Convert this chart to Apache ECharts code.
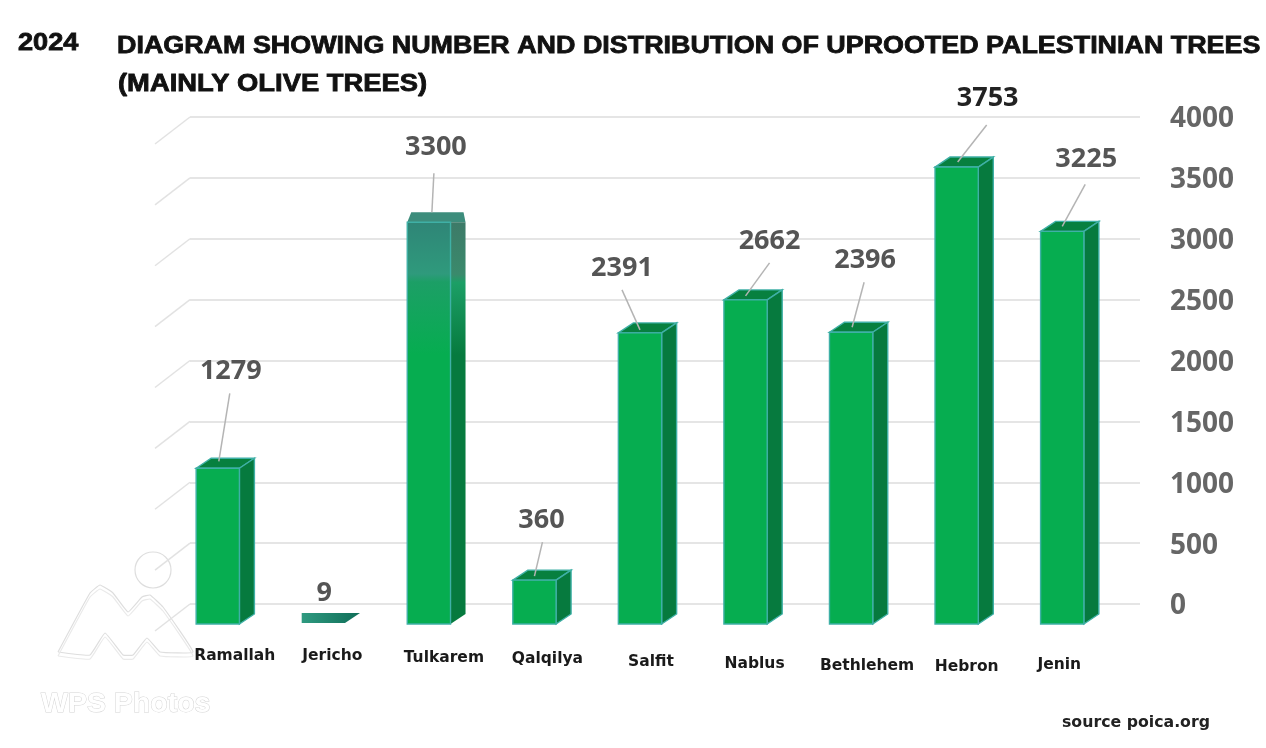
<!DOCTYPE html>
<html>
<body style="margin:0; background:#fff;">
<div id="main" style="width:1266px; height:748px;"></div>

<script src="https://cdn.jsdelivr.net/npm/echarts@6/dist/echarts.min.js"></script>
<script>
var myChart = echarts.init(document.getElementById('main'));

var cities = ['Ramallah', 'Jericho', 'Tulkarem', 'Qalqilya', 'Salfit', 'Nablus', 'Bethlehem', 'Hebron', 'Jenin'];
var trees = [1279, 9, 3300, 360, 2391, 2662, 2396, 3753, 3225];
var yTicks = [0, 500, 1000, 1500, 2000, 2500, 3000, 3500, 4000];

// the picture has its labels and leader lines placed by hand, so nudge them per bar
var labelAt = [[13, -97], [1, -30], [7, -75], [7, -60], [-18, -65], [24, -59], [14, -72], [31, -69], [24, -72]];
var lineFrom = [[12, -75], [0, 0], [5, -49], [8, -38], [-18, -43], [24, -37], [13, -50], [30, -42], [23, -47]];
var lineTo = [[1, -7], [0, 0], [3, -10], [0, -4], [0, -3], [0, -4], [1, -5], [1, -5], [0, -5]];
var catTop = [6, 6, 8, 9, 12, 14, 16, 17, 15];
var catShift = [16, 32, 20, 24, 28, 32, 18, 30, 56];

var shiftX = -25, shiftY = 20, depthX = 15, depthY = -10;
var edge = '#3fb0a6';

function face(points, fill) {
	return {type: 'polygon', shape: {points: points}, style: {fill: fill, stroke: edge, lineWidth: 1.4}};
}

function fade(top, mid, bottom, stop) {
	return new echarts.graphic.LinearGradient(0, 0, 0, 1, [
		{offset: 0, color: top},
		{offset: stop, color: mid},
		{offset: stop + 0.02, color: '#1c9f66'},
		{offset: stop + 0.2, color: bottom},
		{offset: 1, color: bottom}
	]);
}

function renderBar(params, api) {
	var i = api.value(0);
	var top = api.coord([i, api.value(1)]);
	var w = api.size([1, 0])[0] * 0.41;
	var base = api.coord([i, 0])[1] + shiftY;
	var x0 = top[0] + shiftX - w / 2;
	var x1 = x0 + w;
	var y = top[1] + shiftY;
	var frontFill = '#06ad50', sideFill = '#067a3e', topFill = '#07803f';
	// Jericho is only a teal sliver
	if (cities[i] === 'Jericho') {
		return {
			type: 'polygon',
			shape: {points: [[x0, y], [x0, y + depthY], [x1 + depthX, y + depthY], [x1, y]]},
			style: {fill: new echarts.graphic.LinearGradient(0, 0, 1, 0, [
				{offset: 0, color: '#2f9a80'},
				{offset: 1, color: '#0f6e58'}
			])}
		};
	}
	// Tulkarem is washed out at the top, its top face nearly flat
	if (cities[i] === 'Tulkarem') {
		frontFill = fade('#2f8577', '#2f9a7c', '#06ad50', 0.13);
		sideFill = fade('#3d7a68', '#3a8a6c', '#067a3e', 0.13);
		return {type: 'group', children: [
			{type: 'polygon', shape: {points: [[x0, y], [x0 + 4, y + depthY], [x1 + depthX - 2, y + depthY], [x1 + depthX, y]]}, style: {fill: '#3d8d7c'}},
			{type: 'polygon', shape: {points: [[x1, y], [x1 + depthX, y], [x1 + depthX, base + depthY], [x1, base]]}, style: {fill: sideFill}},
			face([[x0, y], [x1, y], [x1, base], [x0, base]], frontFill)
		]};
	}
	return {type: 'group', children: [
		face([[x0, y], [x0 + depthX, y + depthY], [x1 + depthX, y + depthY], [x1, y]], topFill),
		face([[x1, y], [x1 + depthX, y + depthY], [x1 + depthX, base + depthY], [x1, base]], sideFill),
		face([[x0, y], [x1, y], [x1, base], [x0, base]], frontFill)
	]};
}

function renderValue(params, api) {
	var i = api.value(0);
	var top = api.coord([i, api.value(1)]);
	var x = top[0] + shiftX, y = top[1] + shiftY;
	var children = [{
		type: 'text',
		style: {
			x: x + labelAt[i][0], y: y + labelAt[i][1], text: String(api.value(1)),
			fill: cities[i] === 'Hebron' ? '#222' : '#555',
			font: 'bold 27px "Open Sans"', align: 'center', verticalAlign: 'middle'
		}
	}];
	if (i !== 1) {
		children.push({
			type: 'line',
			shape: {x1: x + lineFrom[i][0], y1: y + lineFrom[i][1], x2: x + lineTo[i][0], y2: y + lineTo[i][1]},
			style: {stroke: '#b4b4b4', lineWidth: 1.5}
		});
	}
	return {type: 'group', children: children};
}

function renderStub(params, api) {
	var p = api.coord([0, api.value(1)]);
	var left = params.coordSys.x;
	return {
		type: 'line',
		shape: {x1: left, y1: p[1], x2: left - 35, y2: p[1] + 27},
		style: {stroke: '#e2e2e2', lineWidth: 1.5}
	};
}

function richLabels() {
	var rich = {};
	cities.forEach(function (c, i) {
		rich['c' + i] = {
			padding: [catTop[i], catShift[i], 0, 0],
			fontFamily: 'DejaVu Sans', fontWeight: 'bold', fontSize: 15.5, color: '#1a1a1a'
		};
	});
	return rich;
}

function titleText(text, x, y, size, scale) {
	return {
		type: 'text', x: x, y: y, scaleX: scale, z: 10,
		style: {text: text, fill: '#111', font: 'bold ' + size + 'px "Liberation Sans"', stroke: '#111', lineWidth: 0.8}
	};
}

var mountain = [[58, 652], [90, 593], [100, 585], [113, 593], [128, 612], [142, 597], [150, 595], [163, 607], [193, 652], [160, 652], [147, 638], [133, 655], [123, 655], [105, 633], [90, 655], [58, 652]];

myChart.setOption({
	backgroundColor: '#fff',
	animation: false,
	grid: {left: 190, top: 117, width: 950, height: 487},
	xAxis: {
		type: 'category',
		data: cities,
		axisLine: {show: false},
		axisTick: {show: false},
		axisLabel: {
			margin: 30,
			interval: 0,
			formatter: function (v, i) { return '{c' + i + '|' + v + '}'; },
			rich: richLabels()
		}
	},
	yAxis: {
		type: 'value',
		position: 'right',
		min: 0,
		max: 4000,
		interval: 500,
		axisLine: {show: false},
		axisTick: {show: false},
		axisLabel: {
			margin: 30,
			formatter: function (v) { return '{v|' + v + '}'; },
			rich: {v: {color: '#666', fontFamily: 'Open Sans', fontWeight: 'bold', fontSize: 28, padding: [5, 0, 0, 0]}}
		},
		splitLine: {lineStyle: {color: '#dcdcdc', width: 1.5}}
	},
	series: [
		{type: 'custom', silent: true, renderItem: renderStub, data: yTicks.map(function (v) { return [0, v]; }), encode: {x: 0, y: 1}, z: 1},
		{type: 'custom', silent: true, renderItem: renderBar, data: trees.map(function (v, i) { return [i, v]; }), encode: {x: 0, y: 1}, z: 2},
		{type: 'custom', silent: true, renderItem: renderValue, data: trees.map(function (v, i) { return [i, v]; }), encode: {x: 0, y: 1}, z: 3}
	],
	graphic: [
		titleText('2024', 18, 24, 23, 1.18),
		titleText('DIAGRAM SHOWING NUMBER AND DISTRIBUTION OF UPROOTED PALESTINIAN TREES', 117, 26, 24, 1.12),
		titleText('(MAINLY OLIVE TREES)', 118, 64, 24, 1.14),
		{
			type: 'text', x: 1062, y: 707, scaleX: 1.05,
			style: {text: 'source poica.org', fill: '#222', font: 'bold 15px "DejaVu Sans"'}
		},
		// WPS watermark
		{type: 'circle', shape: {cx: 153, cy: 570, r: 18}, style: {fill: 'none', stroke: '#dedede', lineWidth: 1.2}, z: 0},
		{type: 'polyline', shape: {points: mountain, smooth: 0.1}, style: {fill: 'none', stroke: '#dedede', lineWidth: 1.2}, z: 0},
		{type: 'polyline', y: 4, shape: {points: mountain, smooth: 0.1}, style: {fill: 'none', stroke: '#eaeaea', lineWidth: 1.2}, z: 0},
		{
			type: 'text', x: 41, y: 680,
			style: {text: 'WPS Photos', fill: '#fff', stroke: '#d4d4d4', lineWidth: 1, font: 'bold 28.5px "Liberation Sans"'},
			z: 0
		}
	]
});
</script>
</body>
</html>
